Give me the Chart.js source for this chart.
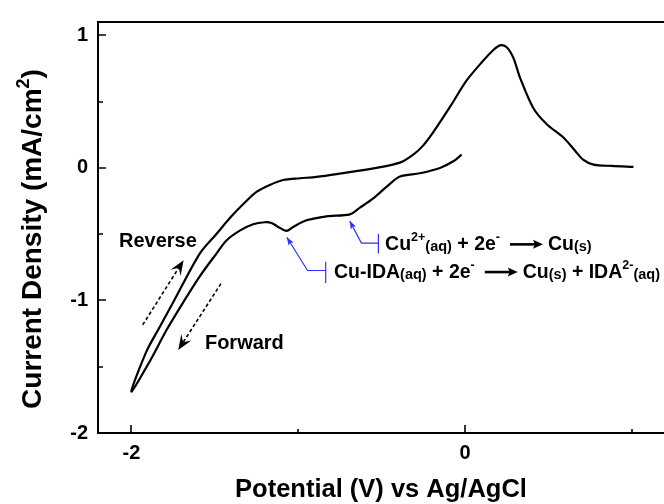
<!DOCTYPE html>
<html>
<head>
<meta charset="utf-8">
<script src="https://cdn.jsdelivr.net/npm/chart.js@4.4.1/dist/chart.umd.min.js"></script>
<style>
html,body{margin:0;padding:0;background:#fff;}
#c{display:block;}
</style>
</head>
<body>
<canvas id="c" width="664" height="504"></canvas>
<script>
// ---------------- data ----------------
// Forward scan: from 0 V towards -2 V
const forwardPotential = [-0.02, -0.07, -0.15, -0.27, -0.39, -0.45, -0.55, -0.63, -0.69, -0.83, -0.95, -1.03, -1.07, -1.12, -1.16, -1.20, -1.27, -1.35, -1.43, -1.49, -1.59, -1.69, -1.79, -1.89, -2.00];
const forwardCurrent   = [0.10, 0.05, 0.00, -0.04, -0.065, -0.12, -0.23, -0.30, -0.35, -0.365, -0.395, -0.445, -0.475, -0.445, -0.415, -0.41, -0.425, -0.473, -0.547, -0.646, -0.818, -1.016, -1.225, -1.46, -1.687];
// Reverse scan: from -2 V up to 1 V
const reversePotential = [-2.00, -1.91, -1.83, -1.75, -1.59, -1.49, -1.40, -1.32, -1.25, -1.17, -1.09, -0.99, -0.89, -0.73, -0.53, -0.39, -0.31, -0.25, -0.19, -0.09, 0.01, 0.11, 0.17, 0.21, 0.25, 0.29, 0.33, 0.41, 0.49, 0.59, 0.66, 0.71, 0.77, 0.88, 1.01];
const reverseCurrent   = [-1.687, -1.386, -1.20, -1.016, -0.646, -0.498, -0.365, -0.261, -0.18, -0.128, -0.091, -0.078, -0.068, -0.039, 0.00, 0.04, 0.10, 0.17, 0.27, 0.46, 0.66, 0.81, 0.89, 0.925, 0.91, 0.83, 0.68, 0.45, 0.33, 0.23, 0.13, 0.06, 0.025, 0.015, 0.008];

// axis ticks
const xMajorTicks = [-2, 0];
const xMinorTicks = [-1, 1];
const yMajorTicks = [-2, -1, 0, 1];
const yMinorTicks = [-1.5, -0.5, 0.5];
const xRange = [-2.2, 1.193];
const yRange = [-2, 1.101];

// texts
const xTitle = 'Potential (V) vs Ag/AgCl';
const yTitleMain = 'Current Density (mA/cm';
const yTitleSup = '2';
const yTitleEnd = ')';
const reverseLabel = 'Reverse';
const forwardLabel = 'Forward';

// annotation anchors (in data units: potential, current density)
const reverseLabelAt = [-2.074, -0.597];
const forwardLabelAt = [-1.559, -1.369];
const reverseArrow = [[-1.932, -1.184], [-1.687, -0.696]];
const forwardArrow = [[-1.463, -0.873], [-1.719, -1.373]];
const cuPath  = [[-0.691, -0.40], [-0.621, -0.567], [-0.519, -0.567]];
const cuBar   = [-0.519, -0.498, -0.646];
const cuTextAt = [-0.479, -0.622];
const idaPath = [[-1.068, -0.523], [-0.944, -0.774], [-0.835, -0.774]];
const idaBar  = [-0.835, -0.707, -0.868];
const idaTextAt = [-0.785, -0.831];

const FONT = "'Liberation Sans', Arial, Helvetica, sans-serif";
const BLUE = '#2f2fff';

// rich text segments: t = text, s = size, d = vertical shift; arrow segment
const cuText = [
  {t:'Cu', s:19.5}, {t:'2+', s:12.5, d:-9}, {t:'(aq)', s:14.5, d:1}, {t:' + 2e', s:19.5}, {t:'-', s:12.5, d:-9},
  {arrow:true}, {t:'Cu', s:19.5}, {t:'(s)', s:14.5, d:1}
];
const idaText = [
  {t:'Cu-IDA', s:19.5}, {t:'(aq)', s:14.5, d:1}, {t:' + 2e', s:19.5}, {t:'-', s:12.5, d:-9},
  {arrow:true}, {t:'Cu', s:19.5}, {t:'(s)', s:14.5, d:1}, {t:' + IDA', s:19.5}, {t:'2-', s:12.5, d:-9}, {t:'(aq)', s:14.5, d:1}
];

// ---------------- helpers ----------------
function richWidth(ctx, segs) {
  let w = 0;
  for (const g of segs) {
    if (g.arrow) { w += 48; continue; }
    ctx.font = `bold ${g.s}px ${FONT}`;
    w += ctx.measureText(g.t).width;
  }
  return w;
}
function drawRich(ctx, x, y, segs) {
  ctx.textAlign = 'left';
  ctx.textBaseline = 'alphabetic';
  for (const g of segs) {
    if (g.arrow) {
      const x0 = x + 10, x1 = x + 43, ay = y - 6;
      ctx.save();
      ctx.strokeStyle = '#000'; ctx.lineWidth = 2.6;
      ctx.beginPath(); ctx.moveTo(x0, ay); ctx.lineTo(x1 - 6, ay); ctx.stroke();
      ctx.beginPath(); ctx.moveTo(x1, ay); ctx.lineTo(x1 - 10, ay - 4.5); ctx.lineTo(x1 - 8, ay); ctx.lineTo(x1 - 10, ay + 4.5); ctx.closePath(); ctx.fill();
      ctx.restore();
      x += 48; continue;
    }
    ctx.font = `bold ${g.s}px ${FONT}`;
    ctx.fillText(g.t, x, y + (g.d || 0));
    x += ctx.measureText(g.t).width;
  }
}
function arrowHead(ctx, x1, y1, ang, len, w, notch) {
  const c = Math.cos(ang), s = Math.sin(ang);
  ctx.beginPath();
  ctx.moveTo(x1, y1);
  ctx.lineTo(x1 - c*len - s*w, y1 - s*len + c*w);
  ctx.lineTo(x1 - c*len*notch, y1 - s*len*notch);
  ctx.lineTo(x1 - c*len + s*w, y1 - s*len - c*w);
  ctx.closePath();
  ctx.fill();
}

// ---------------- plugins ----------------
const framePlugin = {
  id: 'frame',
  afterDatasetsDraw(chart) {
    const {ctx, chartArea: a, scales: {x, y}} = chart;
    ctx.save();
    ctx.strokeStyle = '#000';
    ctx.lineWidth = 2;
    ctx.lineCap = 'butt';
    ctx.beginPath();
    ctx.moveTo(a.right + 2, a.top); ctx.lineTo(a.left, a.top);
    ctx.lineTo(a.left, a.bottom); ctx.lineTo(a.right + 2, a.bottom);
    ctx.stroke();
    ctx.lineWidth = 1.6;
    ctx.beginPath();
    for (const v of xMajorTicks) { const p = Math.round(x.getPixelForValue(v)); ctx.moveTo(p, a.bottom); ctx.lineTo(p, a.bottom - 8); }
    for (const v of xMinorTicks) { const p = Math.round(x.getPixelForValue(v)); ctx.moveTo(p, a.bottom); ctx.lineTo(p, a.bottom - 4); }
    for (const v of yMajorTicks) { const p = Math.round(y.getPixelForValue(v)); ctx.moveTo(a.left, p); ctx.lineTo(a.left + 8, p); }
    for (const v of yMinorTicks) { const p = Math.round(y.getPixelForValue(v)); ctx.moveTo(a.left, p); ctx.lineTo(a.left + 5, p); }
    ctx.stroke();
    ctx.restore();
  }
};

const textPlugin = {
  id: 'texts',
  afterDraw(chart) {
    const {ctx, chartArea: a, scales: {x, y}} = chart;
    const P = (pt) => [x.getPixelForValue(pt[0]), y.getPixelForValue(pt[1])];
    ctx.save();
    ctx.fillStyle = '#000';

    // x title
    ctx.font = `bold 25.5px ${FONT}`;
    ctx.textAlign = 'center'; ctx.textBaseline = 'alphabetic';
    ctx.fillText(xTitle, (a.left + a.right) / 2, 497);

    // y title (rotated)
    ctx.save();
    ctx.translate(41, 239);
    ctx.rotate(-Math.PI / 2);
    const yseg = [{t: yTitleMain, s: 28}, {t: yTitleSup, s: 18, d: -12}, {t: yTitleEnd, s: 28}];
    const yw = richWidth(ctx, yseg);
    drawRich(ctx, -yw / 2, 0, yseg);
    ctx.restore();

    // Reverse / Forward labels
    ctx.font = `bold 20px ${FONT}`;
    ctx.textAlign = 'left'; ctx.textBaseline = 'alphabetic';
    let p = P(reverseLabelAt); ctx.fillText(reverseLabel, p[0], p[1]);
    p = P(forwardLabelAt); ctx.fillText(forwardLabel, p[0], p[1]);

    // dashed arrows
    for (const arr of [reverseArrow, forwardArrow]) {
      const [x0, y0] = P(arr[0]); const [x1, y1] = P(arr[1]);
      const ang = Math.atan2(y1 - y0, x1 - x0);
      ctx.strokeStyle = '#000'; ctx.lineWidth = 1.6;
      ctx.setLineDash([3.5, 2.5]);
      ctx.beginPath(); ctx.moveTo(x0, y0);
      ctx.lineTo(x1 - Math.cos(ang) * 9, y1 - Math.sin(ang) * 9); ctx.stroke();
      ctx.setLineDash([]);
      arrowHead(ctx, x1, y1, ang, 15, 6, 0.6);
    }

    // blue pointer lines
    ctx.strokeStyle = BLUE; ctx.fillStyle = BLUE; ctx.lineWidth = 1.2;
    for (const [path, bar] of [[cuPath, cuBar], [idaPath, idaBar]]) {
      const pts = path.map(P);
      ctx.beginPath();
      ctx.moveTo(pts[0][0], pts[0][1]);
      for (let i = 1; i < pts.length; i++) ctx.lineTo(pts[i][0], pts[i][1]);
      ctx.stroke();
      const b0 = P([bar[0], bar[1]]), b1 = P([bar[0], bar[2]]);
      ctx.beginPath(); ctx.moveTo(b0[0], b0[1]); ctx.lineTo(b1[0], b1[1]); ctx.stroke();
      const ang = Math.atan2(pts[0][1] - pts[1][1], pts[0][0] - pts[1][0]);
      arrowHead(ctx, pts[0][0], pts[0][1], ang, 8, 3, 0.8);
    }

    // reaction equations
    ctx.fillStyle = '#000';
    p = P(cuTextAt); drawRich(ctx, p[0], p[1], cuText);
    p = P(idaTextAt); drawRich(ctx, p[0], p[1], idaText);
    ctx.restore();
  }
};

// ---------------- chart ----------------
const points = forwardPotential.map((v, i) => ({x: v, y: forwardCurrent[i]}))
  .concat(reversePotential.slice(1).map((v, i) => ({x: v, y: reverseCurrent[i + 1]})));

new Chart(document.getElementById('c'), {
  type: 'scatter',
  data: {
    datasets: [{
      data: points,
      showLine: true,
      borderColor: '#000',
      borderWidth: 2.2,
      pointRadius: 0,
      tension: 0.3,
      fill: false
    }]
  },
  options: {
    responsive: false,
    devicePixelRatio: 1,
    animation: false,
    layout: {padding: {top: 14, right: 0, left: 0, bottom: 0}},
    plugins: {legend: {display: false}, tooltip: {enabled: false}},
    scales: {
      x: {
        type: 'linear', position: 'bottom',
        min: xRange[0], max: xRange[1],
        grid: {display: false, drawTicks: false},
        border: {display: false},
        afterFit: (s) => { s.height = 71; },
        afterBuildTicks: (s) => { s.ticks = xMajorTicks.map(v => ({value: v})); },
        ticks: {
          padding: 8, color: '#000', maxRotation: 0,
          font: {family: FONT, size: 20, weight: 'bold'},
          callback: (v) => String(v)
        }
      },
      y: {
        type: 'linear', position: 'left',
        min: yRange[0], max: yRange[1],
        grid: {display: false, drawTicks: false},
        border: {display: false},
        afterFit: (s) => { s.width = 98; },
        afterBuildTicks: (s) => { s.ticks = yMajorTicks.map(v => ({value: v})); },
        ticks: {
          padding: 10, color: '#000',
          font: {family: FONT, size: 20, weight: 'bold'},
          callback: (v) => String(v)
        }
      }
    }
  },
  plugins: [framePlugin, textPlugin]
});
</script>
</body>
</html>
